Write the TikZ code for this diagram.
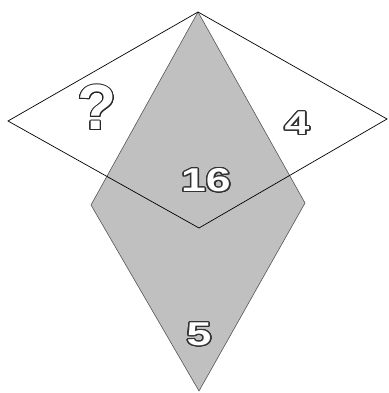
\documentclass[tikz,border=0pt]{standalone}
\usepackage{fontspec}
\setmainfont{Liberation Sans}
\usepackage[copies]{contour}
\tikzset{
  kite/.style={fill=kitegray, draw=kiteedge, line width=0.6pt, line join=round},
  wquad/.style={draw=black, line width=0.7pt, line join=miter},
  num/.style={inner sep=0pt, font=\bfseries\fontsize{33}{33}\selectfont},
  qmark/.style={inner sep=0pt, font=\bfseries\fontsize{64}{64}\selectfont}
}
\definecolor{kitegray}{HTML}{C0C0C0}
\definecolor{kiteedge}{HTML}{555555}
\newcommand{\outnum}[1]{\contourlength{1.1pt}\contournumber{24}\scalebox{1.35}[1]{\contour{black!80}{\textcolor{white}{#1}}}}
\newcommand{\outq}[1]{\contourlength{0.9pt}\contournumber{24}\contour{black!85}{\textcolor{white}{#1}}}
\begin{document}
\begin{tikzpicture}[x=1pt,y=-1pt]
\useasboundingbox (0,0) rectangle (388,393);
\coordinate (T) at (198,12);
\coordinate (KL) at (91,205);
\coordinate (KR) at (305,203);
\coordinate (KB) at (199,391);
\coordinate (QL) at (8,121);
\coordinate (QR) at (387,119);
\coordinate (QB) at (199,228);
\fill[kite] (T) -- (KR) -- (KB) -- (KL) -- cycle;
\draw[wquad] (T) -- (QR) -- (QB) -- (QL) -- cycle;
\node[qmark] (q) at (97,108) {\outq{?}};
\node[num] (n4) at (297,124) {\outnum{4}};
\node[num] (n16) at (206,181) {\outnum{16}};
\node[num] (n5) at (199,335) {\outnum{5}};
\end{tikzpicture}
\end{document}
